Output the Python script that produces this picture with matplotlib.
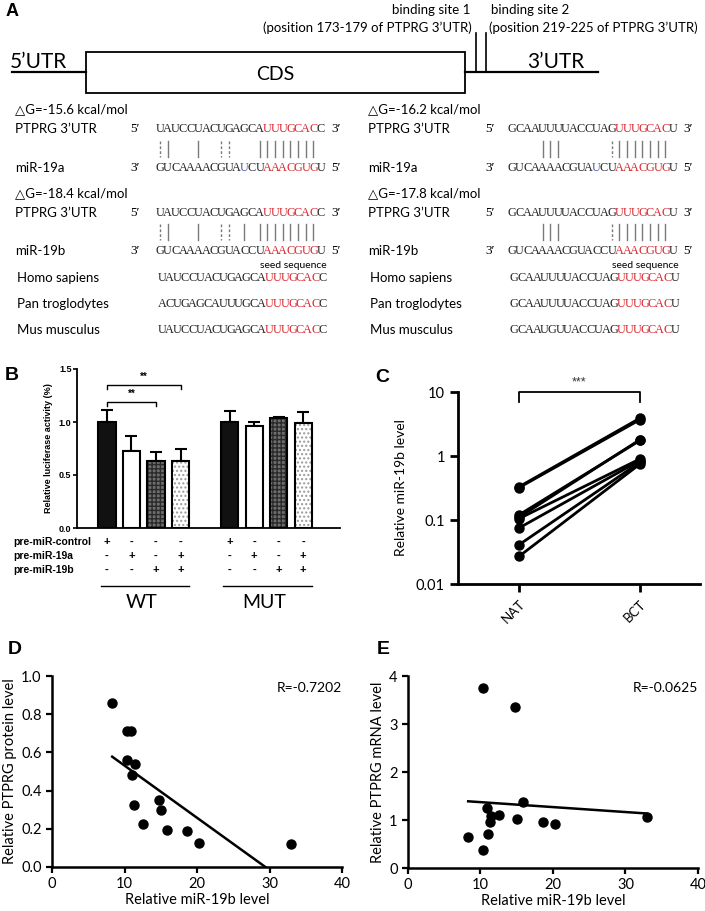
import numpy as np
import matplotlib
matplotlib.use('Agg')
import matplotlib.pyplot as plt
from matplotlib.transforms import blended_transform_factory
from matplotlib.patches import Rectangle
from matplotlib.ticker import FormatStrFormatter, NullLocator

W, H = 705, 911
SANS = ['Lato', 'DejaVu Sans']
ARIAL = ['Liberation Sans', 'DejaVu Sans']
SERIF = ['Liberation Serif', 'DejaVu Serif']
RED = '#d7262e'
BLUE = '#4a55b0'

# ---------------- Panel A data ----------------
region_labels = ["5’UTR", "CDS", "3’UTR"]
site_titles = ["binding site 1", "binding site 2"]
site_positions = ["(position 173-179 of PTPRG 3’UTR)", "(position 219-225 of PTPRG 3’UTR)"]
dG_site1 = ["△G=-15.6 kcal/mol", "△G=-18.4 kcal/mol"]
dG_site2 = ["△G=-16.2 kcal/mol", "△G=-17.8 kcal/mol"]
utr_site1 = "UAUCCUACUGAGCAUUUGCACC"
utr_site2 = "GCAAUUUUACCUAGUUUGCACU"
mir19a = "GUCAAAACGUAUCUAAACGUGU"
mir19b = "GUCAAAACGUACCUAAACGUGU"
mir_names = ["miR-19a", "miR-19b"]
seed_idx = [14, 15, 16, 17, 18, 19, 20]
mir19a_diff_idx = [11]
pairs_s1 = {"miR-19a": ([1, 5, 13, 14, 15, 16, 17, 18, 19, 20], [0, 8, 9]),
            "miR-19b": ([1, 5, 11, 13, 14, 15, 16, 17, 18, 19, 20], [0, 8, 9])}
pairs_s2 = {"miR-19a": ([4, 5, 6, 14, 15, 16, 17, 18, 19, 20], [13]),
            "miR-19b": ([4, 5, 6, 14, 15, 16, 17, 18, 19, 20], [13])}
species = ["Homo sapiens", "Pan troglodytes", "Mus musculus"]
cons_site1 = ["UAUCCUACUGAGCAUUUGCACC", "ACUGAGCAUUUGCAUUUGCACC", "UAUCCUACUGAGCAUUUGCACC"]
cons_site2 = ["GCAAUUUUACCUAGUUUGCACU", "GCAAUUUUACCUAGUUUGCACU", "GCAAUGUUACCUAGUUUGCACU"]

# ---------------- Panel B data ----------------
conditions = ["pre-miR-control", "pre-miR-19a", "pre-miR-19b"]
design = [["+", "-", "-", "-", "+", "-", "-", "-"],
          ["-", "+", "-", "+", "-", "+", "-", "+"],
          ["-", "-", "+", "+", "-", "-", "+", "+"]]
groups = ["WT", "MUT"]
bar_pos = [0, 1, 2, 3, 5, 6, 7, 8]
luc_mean = [1.00, 0.73, 0.63, 0.63, 1.00, 0.96, 1.04, 0.99]
luc_err = [0.11, 0.14, 0.09, 0.12, 0.10, 0.04, 0.01, 0.10]
bar_face = ['#111111', 'white', '#6e6e6e', 'white'] * 2
bar_hatch = [None, None, '++++', '....'] * 2
bar_hatch_col = ['#111111', 'white', '#2a2a2a', '#9a9a9a'] * 2
sig_pairs = [(0, 2, 1.19, "**"), (0, 3, 1.35, "**")]

# ---------------- Panel C data ----------------
tissue = ["NAT", "BCT"]
nat = [0.32, 0.33, 0.12, 0.11, 0.105, 0.075, 0.041, 0.027]
bct = [3.7, 3.9, 1.75, 1.8, 0.9, 0.85, 0.8, 0.75]

# ---------------- Panels D/E data ----------------
mir19b_level = [8.3, 10.3, 10.9, 10.4, 11.4, 11.0, 11.3, 14.8, 15.1, 12.6, 15.9, 18.6, 20.3, 32.9]
ptprg_protein = [0.86, 0.71, 0.71, 0.56, 0.54, 0.48, 0.325, 0.35, 0.30, 0.225, 0.196, 0.189, 0.126, 0.121]
ptprg_mrna = [0.65, 3.75, 1.24, 0.38, 1.08, 0.70, 0.95, 3.35, 1.03, 1.10, 1.37, 0.96, 0.92, 1.07]
r_protein = "R=-0.7202"
r_mrna = "R=-0.0625"

fig = plt.figure(figsize=(W / 100, H / 100), dpi=100)
fig.patch.set_facecolor('white')

ov = fig.add_axes([0, 0, 1, 1])
ov.set_xlim(0, W)
ov.set_ylim(H, 0)
ov.axis('off')


def ax_px(l, t, r, b):
    a = fig.add_axes([l / W, 1 - b / H, (r - l) / W, (b - t) / H])
    a.set_facecolor('none')
    return a


# ---------------- Panel A ----------------
ov.text(6, 12, "A", fontsize=13, fontweight='bold', family=ARIAL, va='center', ha='left')
ov.plot([12, 86], [72, 72], color='black', lw=1.6)
ov.add_patch(Rectangle((86, 52), 379, 41, fill=False, ec='black', lw=1.3))
ov.plot([465, 598], [72, 72], color='black', lw=1.6)
ov.plot([476, 476], [33, 72], color='black', lw=1.2)
ov.plot([486, 486], [33, 72], color='black', lw=1.2)
ov.text(10, 62, region_labels[0], fontsize=15, family=SANS, va='center', ha='left')
ov.text(275, 74, region_labels[1], fontsize=14, family=SANS, va='center', ha='center')
ov.text(527, 62, region_labels[2], fontsize=15, family=SANS, va='center', ha='left')
ov.text(470, 10, site_titles[0], fontsize=9.5, family=SANS, va='center', ha='right')
ov.text(472, 28, site_positions[0], fontsize=9.5, family=SANS, va='center', ha='right')
ov.text(491, 10, site_titles[1], fontsize=9.5, family=SANS, va='center', ha='left')
ov.text(489, 28, site_positions[1], fontsize=9.5, family=SANS, va='center', ha='left')

PITCH = 7.68


def draw_seq(x0, y, seq, red=(), blue=()):
    for i, ch in enumerate(seq):
        c = RED if i in red else (BLUE if i in blue else '#222222')
        ov.text(x0 + PITCH * (i + 0.5), y, ch, fontsize=8.8, family=SERIF,
                color=c, ha='center', va='center')


def draw_pairs(x0, y1, y2, solid, dashed):
    for i in solid:
        x = x0 + PITCH * (i + 0.5)
        ov.plot([x, x], [y1, y2], color='#7a7a7a', lw=1.0)
    for i in dashed:
        x = x0 + PITCH * (i + 0.5)
        ov.plot([x, x], [y1, y2], color='#7a7a7a', lw=1.0, ls=(0, (2, 1.5)))


rows = [(109, 129, 149, 168), (193, 213, 232, 251)]
columns = [(15, 130, 156, utr_site1, dG_site1, pairs_s1, cons_site1),
           (368, 485, 508, utr_site2, dG_site2, pairs_s2, cons_site2)]
for (name_x, prime_x, sx, utr, dgs, pairs, cons) in columns:
    for k, (ydg, yutr, ymid, ymir) in enumerate(rows):
        mir = [mir19a, mir19b][k]
        mname = mir_names[k]
        ov.text(name_x, ydg, dgs[k], fontsize=9.5, family=SANS, va='center', ha='left')
        ov.text(name_x, yutr, "PTPRG 3’UTR", fontsize=9.5, family=SANS, va='center', ha='left')
        ov.text(prime_x, yutr, "5′", fontsize=9.5, family=SERIF, va='center', ha='left')
        draw_seq(sx, yutr, utr, red=seed_idx)
        ov.text(sx + PITCH * len(utr) + 6, yutr, "3′", fontsize=9.5, family=SERIF, va='center', ha='left')
        solid, dashed = pairs[mname]
        draw_pairs(sx, ymid - 8, ymid + 8, solid, dashed)
        ov.text(name_x, ymir, mname, fontsize=9.5, family=SANS, va='center', ha='left')
        ov.text(prime_x, ymir, "3′", fontsize=9.5, family=SERIF, va='center', ha='left')
        draw_seq(sx, ymir, mir, red=seed_idx, blue=(mir19a_diff_idx if k == 0 else []))
        ov.text(sx + PITCH * len(mir) + 6, ymir, "5′", fontsize=9.5, family=SERIF, va='center', ha='left')
    ov.text(sx + PITCH * 22 + 2, 265, "seed sequence", fontsize=7.5, family=SANS, va='center', ha='right')
    for sp, seq, y in zip(species, cons, [278, 304, 330]):
        ov.text(name_x + 2, y, sp, fontsize=9.5, family=SANS, va='center', ha='left')
        draw_seq(sx + 2, y, seq, red=seed_idx)

# ---------------- Panel B ----------------
ov.text(5, 375, "B", fontsize=14, fontweight='bold', family=ARIAL, va='center', ha='left')
axB = ax_px(77, 369, 340, 528)
for x, m, fc, hc, hp in zip(bar_pos, luc_mean, bar_face, bar_hatch_col, bar_hatch):
    axB.bar(x, m, width=0.7, color=fc, edgecolor=hc, linewidth=0, hatch=hp, zorder=2)
    axB.bar(x, m, width=0.7, fill=False, edgecolor='black', linewidth=1.5, zorder=3)
axB.errorbar(bar_pos, luc_mean, yerr=[np.zeros(len(luc_err)), luc_err], fmt='none',
             ecolor='black', elinewidth=1.5, capsize=4, capthick=1.5, zorder=1)
for i, j, yb, s in sig_pairs:
    xa, xb = bar_pos[i], bar_pos[j]
    axB.plot([xa, xa, xb, xb], [yb - 0.04, yb, yb, yb - 0.04], color='black', lw=1.0, clip_on=False)
    axB.text((xa + xb) / 2, yb + 0.03, s, ha='center', va='bottom', fontsize=7, fontweight='bold', family=ARIAL)
axB.set_xlim(-1.22, 9.5)
axB.set_ylim(0, 1.5)
axB.set_yticks([0, 0.5, 1.0, 1.5])
axB.yaxis.set_major_formatter(FormatStrFormatter('%.1f'))
axB.set_xticks([])
for s in ['top', 'right']:
    axB.spines[s].set_visible(False)
for s in ['left', 'bottom']:
    axB.spines[s].set_linewidth(1.3)
axB.tick_params(axis='y', length=3, width=1.2, labelsize=6.5, pad=1)
for lab in axB.get_yticklabels():
    lab.set_fontweight('bold')
    lab.set_family(ARIAL)
axB.set_ylabel("Relative luciferase activity (%)", fontsize=6.5, fontweight='bold', family=ARIAL, labelpad=4)
trB = blended_transform_factory(axB.transData, ov.transData)
for cond, signs, y in zip(conditions, design, [542, 556, 570]):
    ov.text(13, y, cond, fontsize=7.5, fontweight='bold', family=ARIAL, va='center', ha='left')
    for x, s in zip(bar_pos, signs):
        axB.text(x, y, s, transform=trB, fontsize=8, fontweight='bold', family=ARIAL,
                 ha='center', va='center', clip_on=False)
for g, idx in zip(groups, [bar_pos[:4], bar_pos[4:]]):
    axB.plot([idx[0] - 0.25, idx[-1] + 0.35], [586, 586], transform=trB, color='black', lw=1.0, clip_on=False)
    axB.text((idx[0] + idx[-1]) / 2 - 0.1, 603, g, transform=trB, fontsize=14, family=SANS,
             ha='center', va='center', clip_on=False)

# ---------------- Panel C ----------------
ov.text(382, 377, "C", fontsize=14, fontweight='bold', family=ARIAL, va='center', ha='center')
axC = ax_px(458, 392, 700, 584)
for n, b in zip(nat, bct):
    axC.plot([0, 1], [n, b], color='black', lw=2.0, marker='o', ms=6.5, zorder=3)
axC.set_yscale('log')
axC.set_ylim(0.01, 10)
axC.set_xlim(-0.504, 1.496)
axC.set_yticks([0.01, 0.1, 1, 10])
axC.set_yticklabels(["0.01", "0.1", "1", "10"], family=SANS, fontsize=10.5)
axC.yaxis.set_minor_locator(NullLocator())
axC.set_xticks([0, 1])
axC.set_xticklabels(tissue, rotation=45, ha='right', rotation_mode='anchor', family=SANS, fontsize=9.5)
for s in ['top', 'right']:
    axC.spines[s].set_visible(False)
for s in ['left', 'bottom']:
    axC.spines[s].set_linewidth(2.0)
axC.tick_params(axis='both', length=6, width=2.0)
axC.tick_params(axis='x', pad=4)
axC.set_ylabel("Relative miR-19b level", family=SANS, fontsize=10, labelpad=6)
axC.plot([0, 0, 1, 1], [7.0, 10, 10, 7.0], color='black', lw=1.3, clip_on=False)
axC.text(0.5, 11.5, "***", ha='center', va='bottom', fontsize=9, family=ARIAL, color='#333333')

# ---------------- Panels D / E ----------------
def scatter_panel(ax, y, ymax, yticks, fmt, rtext, ylabel):
    x = np.array(mir19b_level)
    yy = np.array(y)
    ax.plot(x, yy, 'o', color='black', ms=6.5, zorder=3)
    k, c = np.polyfit(x, yy, 1)
    xx = np.array([x.min(), x.max()])
    ax.plot(xx, k * xx + c, color='black', lw=1.8, zorder=2)
    ax.set_xlim(0, 40)
    ax.set_ylim(0, ymax)
    ax.set_xticks([0, 10, 20, 30, 40])
    ax.set_yticks(yticks)
    ax.yaxis.set_major_formatter(FormatStrFormatter(fmt))
    for s in ['top', 'right']:
        ax.spines[s].set_visible(False)
    for s in ['left', 'bottom']:
        ax.spines[s].set_linewidth(1.8)
    ax.tick_params(axis='both', length=4, width=1.6, labelsize=10.5)
    for lab in ax.get_xticklabels() + ax.get_yticklabels():
        lab.set_family(SANS)
    ax.set_xlabel("Relative miR-19b level", family=SANS, fontsize=10.5, labelpad=1)
    ax.set_ylabel(ylabel, family=SANS, fontsize=10.5, labelpad=3)
    ax.text(1.0, 0.97, rtext, transform=ax.transAxes, ha='right', va='top', family=SANS, fontsize=10)


ov.text(8, 650, "D", fontsize=14, fontweight='bold', family=ARIAL, va='center', ha='left')
axD = ax_px(52, 676, 342, 867)
scatter_panel(axD, ptprg_protein, 1.0, [0, 0.2, 0.4, 0.6, 0.8, 1.0], '%.1f', r_protein,
              "Relative PTPRG protein level")

ov.text(383, 650, "E", fontsize=14, fontweight='bold', family=ARIAL, va='center', ha='center')
axE = ax_px(408, 676, 698, 868)
scatter_panel(axE, ptprg_mrna, 4.0, [0, 1, 2, 3, 4], '%d', r_mrna,
              "Relative PTPRG mRNA level")

fig.savefig('out.png', dpi=100, facecolor='white')
